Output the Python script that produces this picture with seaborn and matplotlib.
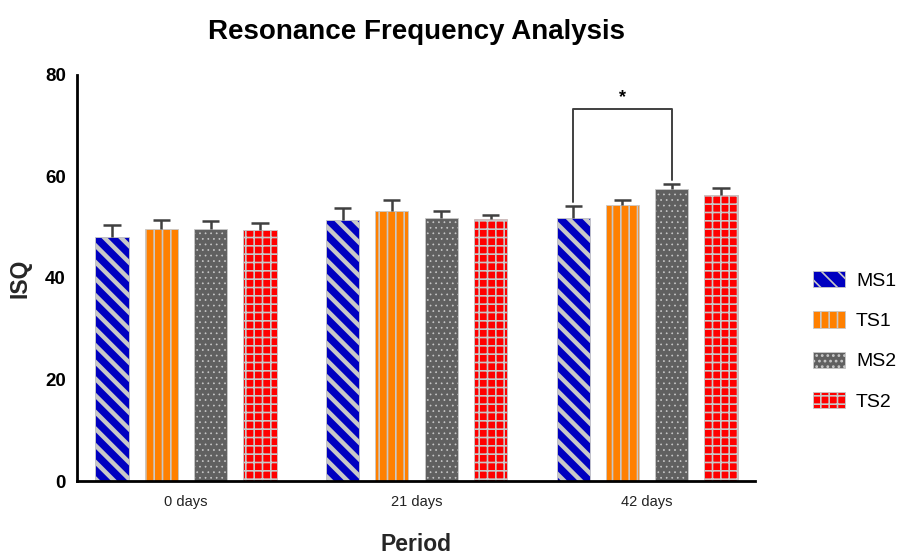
import numpy as np
import pandas as pd
import seaborn as sns
import matplotlib.pyplot as plt
import matplotlib.patches as mpatches

periods = ["0 days", "21 days", "42 days"]
groups = ["MS1", "TS1", "MS2", "TS2"]

# mean ISQ per group, one value per period
ms1_mean = [48.0, 51.4, 51.9]
ts1_mean = [49.7, 53.2, 54.4]
ms2_mean = [49.6, 51.8, 57.6]
ts2_mean = [49.5, 51.6, 56.4]

# error (upper only), one value per period
ms1_err = [2.5, 2.3, 2.3]
ts1_err = [1.7, 2.2, 1.0]
ms2_err = [1.7, 1.4, 0.9]
ts2_err = [1.4, 0.9, 1.4]

colors = ["#0000C0", "#FF8000", "#606060", "#FF0000"]
hatches = ["\\\\", "||", "...", "++"]
hatch_widths = [3.2, 1.2, 0.5, 1.2]

# significance bracket: 42 days, MS1 vs MS2
sig_period = "42 days"
sig_pair = ("MS1", "MS2")
sig_level = 73.3
sig_label = "*"

means = [ms1_mean, ts1_mean, ms2_mean, ts2_mean]
errs = [ms1_err, ts1_err, ms2_err, ts2_err]

rows = []
for g, m, e in zip(groups, means, errs):
    for p, mv, ev in zip(periods, m, e):
        rows.append({"Period": p, "Group": g, "ISQ": mv, "err": ev})
df = pd.DataFrame(rows)

sns.set_style("white")
plt.rcParams["font.family"] = ["Liberation Sans", "DejaVu Sans"]
plt.rcParams["text.color"] = "black"
plt.rcParams["hatch.linewidth"] = 1.2

fig = plt.figure(figsize=(9.12, 5.57), dpi=100)
ax = fig.add_axes([0.0844, 0.1364, 0.7436, 0.729])

sns.barplot(data=df, x="Period", y="ISQ", hue="Group", order=periods,
            hue_order=groups, palette=colors, width=0.856, gap=0.33,
            saturation=1, errorbar=None, legend=False, ax=ax)


def style_patch(patch, h, hw):
    patch.set_hatch(h)
    patch.set_edgecolor("#C8C8C8")
    patch.set_linewidth(0.6)
    if hasattr(patch, "set_hatch_linewidth"):
        patch.set_hatch_linewidth(hw)


centers = {}
for g, cont, h, hw, e in zip(groups, ax.containers, hatches, hatch_widths, errs):
    for p, bar, ev in zip(periods, cont.patches, e):
        style_patch(bar, h, hw)
        x = bar.get_x() + bar.get_width() / 2
        top = bar.get_height()
        centers[(g, p)] = (x, top + ev)
        ax.vlines(x, top, top + ev, color="#404040", lw=1.8, zorder=3)
        ax.hlines(top + ev, x - 0.037, x + 0.037, color="#404040", lw=1.8, zorder=3)

# significance bracket
xl, yl = centers[(sig_pair[0], sig_period)]
xr, yr = centers[(sig_pair[1], sig_period)]
ax.plot([xl, xl, xr, xr], [yl + 0.8, sig_level, sig_level, yr + 0.8],
        color="#404040", lw=1.4, clip_on=False)
ax.text((xl + xr) / 2, sig_level + 0.5, sig_label, ha="center", va="bottom",
        fontsize=13, fontweight="bold")

ax.set_ylim(0, 80)
ax.set_xlim(-0.473, 2.469)
ax.set_yticks([0, 20, 40, 60, 80])
for s in ["top", "right"]:
    ax.spines[s].set_visible(False)
for s in ["left", "bottom"]:
    ax.spines[s].set_linewidth(2)
    ax.spines[s].set_color("black")
ax.tick_params(axis="y", direction="out", length=6, width=2, labelsize=13.5, pad=2,
               labelcolor="black")
ax.tick_params(axis="x", direction="out", length=6, width=2, labelsize=10.5, pad=4,
               labelcolor="#222222")
for lbl in ax.get_yticklabels():
    lbl.set_fontweight("bold")

ax.set_ylabel("ISQ", fontsize=16.5, fontweight="bold", labelpad=10)
ax.set_xlabel("Period", fontsize=16.5, fontweight="bold", labelpad=17)
ax.set_title("Resonance Frequency Analysis", fontsize=20, fontweight="bold", pad=26)

handles = []
for g, c, h, hw in zip(groups, colors, hatches, hatch_widths):
    hp = mpatches.Patch(facecolor=c, label=g)
    style_patch(hp, h, hw)
    handles.append(hp)
ax.legend(handles=handles, loc="center left", bbox_to_anchor=(1.06, 0.345),
          frameon=False, fontsize=14, handlelength=1.65, handleheight=0.9,
          labelspacing=1.1, handletextpad=0.55)

fig.savefig("out.png", dpi=100)
